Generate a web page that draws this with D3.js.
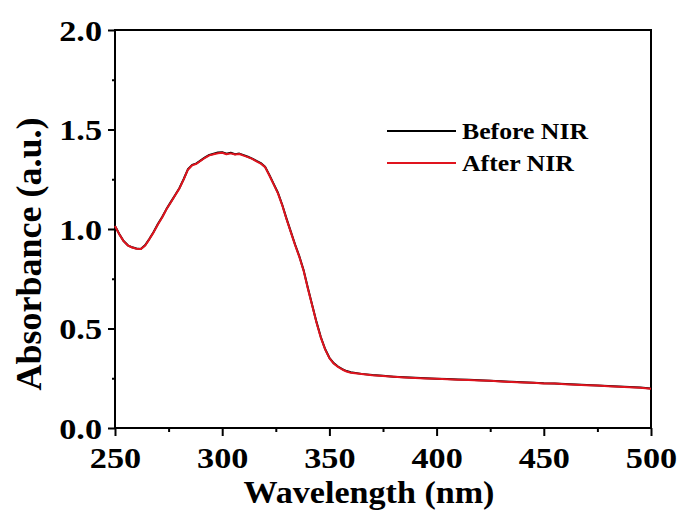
<!DOCTYPE html>
<html><head><meta charset="utf-8">
<script src="https://cdn.jsdelivr.net/npm/d3@7"></script>
<style>body{margin:0;background:#fff}svg{display:block}text{font-family:"Liberation Serif","Times New Roman",serif;font-weight:bold}</style>
</head><body><svg id="c" width="683" height="512"></svg>
<script>
const wavelengths = [250,252,254,256,258,260,262,264,266,268,270,272,274,276,278,280,282,284,286,288,290,292,294,296,298,300,302,304,306,308,310,312,314,316,318,320,322,324,326,328,330,332,334,336,338,340,342,344,346,348,350,352,354,356,358,360,365,370,375,380,385,390,395,400,405,410,415,420,425,430,435,440,445,450,455,460,465,470,475,480,485,490,495,500];
const beforeNIR = [1.015,0.975,0.940,0.918,0.908,0.902,0.900,0.918,0.950,0.985,1.025,1.060,1.100,1.135,1.170,1.205,1.250,1.300,1.322,1.330,1.345,1.360,1.372,1.378,1.384,1.386,1.378,1.383,1.376,1.379,1.371,1.363,1.354,1.342,1.331,1.313,1.272,1.227,1.182,1.122,1.052,0.987,0.922,0.862,0.792,0.702,0.617,0.532,0.457,0.397,0.353,0.326,0.309,0.296,0.286,0.280,0.272,0.266,0.262,0.258,0.255,0.252,0.250,0.248,0.246,0.244,0.242,0.240,0.238,0.235,0.232,0.230,0.228,0.225,0.224,0.221,0.218,0.216,0.214,0.211,0.208,0.206,0.203,0.198];
const afterNIR = [1.015,0.973,0.939,0.917,0.907,0.901,0.899,0.916,0.948,0.983,1.023,1.058,1.099,1.133,1.168,1.203,1.248,1.298,1.320,1.328,1.343,1.358,1.370,1.376,1.381,1.383,1.376,1.380,1.374,1.377,1.369,1.361,1.352,1.340,1.329,1.311,1.269,1.224,1.179,1.119,1.049,0.984,0.919,0.859,0.789,0.699,0.614,0.529,0.454,0.395,0.351,0.324,0.307,0.294,0.284,0.278,0.271,0.265,0.261,0.257,0.254,0.251,0.249,0.247,0.245,0.243,0.241,0.239,0.237,0.234,0.231,0.229,0.227,0.224,0.223,0.220,0.217,0.215,0.213,0.210,0.207,0.205,0.202,0.197];
const xTicks = [250,300,350,400,450,500];
const xMinor = [275,325,375,425,475];
const yTicks = [0.0,0.5,1.0,1.5,2.0];
const yMinor = [0.25,0.75,1.25,1.75];
const seriesNames = ["Before NIR","After NIR"];
const seriesColors = ["#000000","#e0141e"];

const svg = d3.select("#c");
const L=115, R=651, T=30, B=428;
const x = d3.scaleLinear().domain([250,500]).range([L,R]);
const y = d3.scaleLinear().domain([0,2]).range([B,T]);

// frame
svg.append("rect").attr("x",L).attr("y",T).attr("width",R-L).attr("height",B-T)
  .attr("fill","none").attr("stroke","#000").attr("stroke-width",2);

// x axis
const gx = svg.append("g").attr("transform",`translate(0,${B})`)
  .call(d3.axisBottom(x).tickValues(xTicks).tickSize(8).tickPadding(10).tickFormat(d3.format("d")));
gx.select(".domain").remove();
gx.selectAll(".tick line").attr("stroke","#000").attr("stroke-width",2);
gx.selectAll(".tick text").attr("font-size",29).attr("fill","#000")
  .attr("font-family","'Liberation Serif',serif").attr("font-weight","bold")
  .attr("y",40).attr("dy",0).attr("transform","scale(1.18,1)");
const gxm = svg.append("g").attr("transform",`translate(0,${B})`)
  .call(d3.axisBottom(x).tickValues(xMinor).tickSize(4).tickFormat(""));
gxm.select(".domain").remove();
gxm.selectAll(".tick line").attr("stroke","#000").attr("stroke-width",2);

// y axis
const gy = svg.append("g").attr("transform",`translate(${L},0)`)
  .call(d3.axisLeft(y).tickValues(yTicks).tickSize(7).tickPadding(6).tickFormat(d3.format(".1f")));
gy.select(".domain").remove();
gy.selectAll(".tick line").attr("stroke","#000").attr("stroke-width",2);
gy.selectAll(".tick text").attr("font-size",29).attr("fill","#000")
  .attr("font-family","'Liberation Serif',serif").attr("font-weight","bold")
  .attr("x",-11).attr("dy",0).attr("y",10).attr("transform","scale(1.18,1)");
const gym = svg.append("g").attr("transform",`translate(${L},0)`)
  .call(d3.axisLeft(y).tickValues(yMinor).tickSize(3).tickFormat(""));
gym.select(".domain").remove();
gym.selectAll(".tick line").attr("stroke","#000").attr("stroke-width",2);

// lines
const line = d3.line().x((d,i)=>x(wavelengths[i])).y(d=>y(d));
[beforeNIR, afterNIR].forEach((s,k)=>{
  svg.append("path").datum(s).attr("d",line).attr("fill","none")
    .attr("stroke",seriesColors[k]).attr("stroke-width",2).attr("stroke-linejoin","round");
});

// legend
const legY = [131,163];
seriesNames.forEach((n,k)=>{
  svg.append("line").attr("x1",387).attr("x2",456).attr("y1",legY[k]).attr("y2",legY[k])
    .attr("stroke",seriesColors[k]).attr("stroke-width",2);
  svg.append("text").attr("transform",`translate(462,${legY[k]+8}) scale(1.12,1)`)
    .attr("font-size",23).attr("fill","#000").text(n);
});

// axis titles
svg.append("text").attr("transform","translate(369,503) scale(1.1,1)")
  .attr("text-anchor","middle").attr("font-size",31).attr("fill","#000")
  .text("Wavelength (nm)");
svg.append("text").attr("transform","translate(41,254) rotate(-90)")
  .attr("text-anchor","middle").attr("font-size",36).attr("fill","#000")
  .text("Absorbance (a.u.)");
</script></body></html>
